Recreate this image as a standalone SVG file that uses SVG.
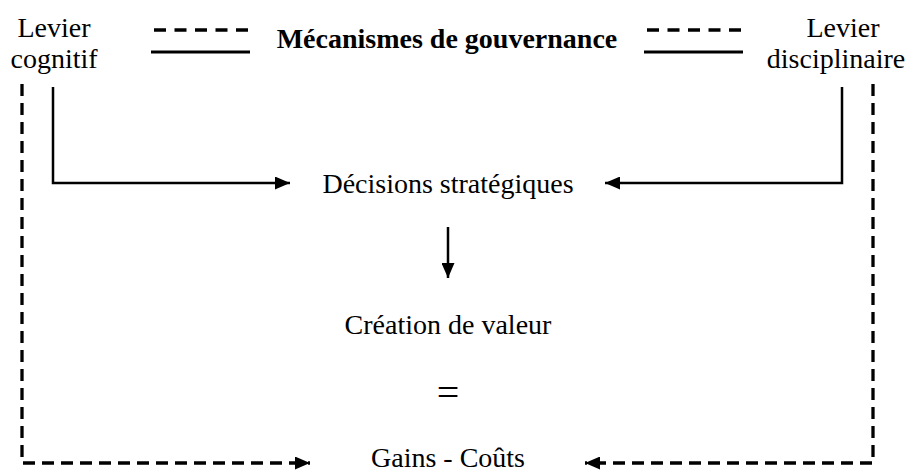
<svg xmlns="http://www.w3.org/2000/svg" width="914" height="472" viewBox="0 0 914 472">
<style>
text{font-size:28px;fill:#000;text-anchor:middle}
.b{font-weight:bold}
.eq{font-size:40px}
.s{fill:none;stroke:#000;stroke-width:2.5}
.d{fill:none;stroke:#000;stroke-width:3.3;stroke-dasharray:12 7}
.ld{fill:none;stroke:#000;stroke-width:3.3;stroke-dasharray:12 8.5}
.ls{fill:none;stroke:#000;stroke-width:3.2}
</style>
<defs>
<marker id="ah" viewBox="0 0 15 13" refX="15" refY="6.5" markerWidth="15" markerHeight="13" markerUnits="userSpaceOnUse" orient="auto">
<path d="M0,0 L15,6.5 L0,13 Z" fill="#000"/>
</marker>
</defs>
<rect width="914" height="472" fill="#fff"/>
<g font-family="'Liberation Serif', 'Times New Roman', 'DejaVu Serif', serif">
<g id="legend">
<line class="ld" x1="154" y1="30" x2="248" y2="30"/>
<line class="ls" x1="151" y1="52" x2="250" y2="52"/>
<text class="b" x="447" y="48">Mécanismes de gouvernance</text>
<line class="ld" x1="647" y1="30" x2="742" y2="30"/>
<line class="ls" x1="644" y1="52" x2="743" y2="52"/>
</g>
<g id="levier-cognitif">
<text x="54" y="37">Levier</text>
<text x="54" y="68">cognitif</text>
</g>
<g id="levier-disciplinaire">
<text x="843" y="37">Levier</text>
<text x="836" y="68">disciplinaire</text>
</g>
<g id="decisions"><text x="448" y="193">Décisions stratégiques</text></g>
<g id="creation"><text x="448" y="334">Création de valeur</text></g>
<g id="egal"><text class="eq" x="448" y="406">=</text></g>
<g id="gains"><text x="448" y="467">Gains - Coûts</text></g>
</g>
<g id="connectors">
<polyline class="s" points="53,87 53,183 290,183" marker-end="url(#ah)"/>
<polyline class="s" points="842,87 842,183 605,183" marker-end="url(#ah)"/>
<line class="s" x1="448" y1="227" x2="448" y2="278" marker-end="url(#ah)"/>
<polyline class="d" points="22,84 22,463 310,463" marker-end="url(#ah)"/>
<polyline class="d" points="873,84 873,463 585,463" marker-end="url(#ah)"/>
</g>
</svg>
